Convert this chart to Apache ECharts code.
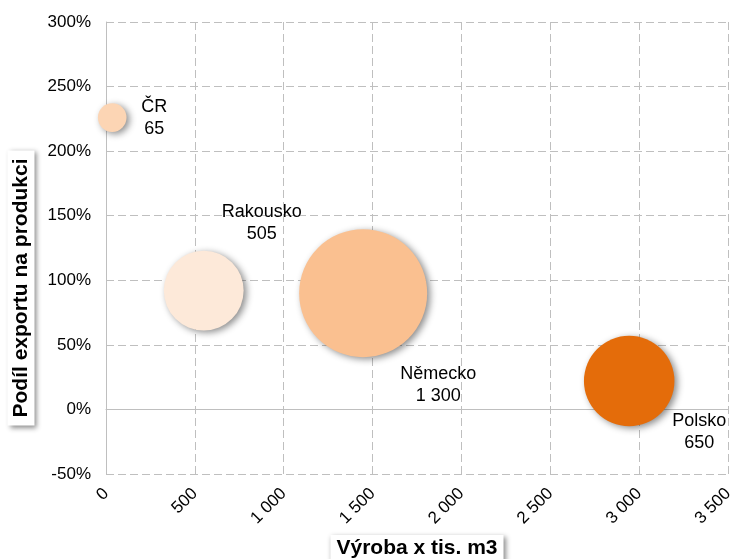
<!DOCTYPE html>
<html>
<head>
<meta charset="utf-8">
<script src="https://cdn.jsdelivr.net/npm/echarts@6/dist/echarts.min.js"></script>
<style>
html,body{margin:0;padding:0;background:#fff;}
#chart{width:732px;height:559px;}
</style>
</head>
<body>
<div id="chart"></div>
<script>
// ---- data ----
var countries = ['ČR', 'Rakousko', 'Německo', 'Polsko'];
var production = [35, 550, 1447, 2944];      // Výroba x tis. m3
var exportShare = [226, 92, 90, 22];         // Podíl exportu na produkci (%)
var exportVolume = [65, 505, 1300, 650];     // bubble size
var xTicks = [0, 500, 1000, 1500, 2000, 2500, 3000, 3500];
var yTicks = [-50, 0, 50, 100, 150, 200, 250, 300];

// ---- styles ----
var bubbleColors = ['#FCD5B4', '#FDE9D9', '#FAC090', '#E46C0A'];
var labelOffsets = [[42, 0], [58, -68], [75, 92], [70, 51]];
var FONT = 'Liberation Sans, Arial, sans-serif';

function fmtThousands(v) {
  var s = String(Math.round(v));
  return s.replace(/\B(?=(\d{3})+(?!\d))/g, ' ');
}

var data = countries.map(function (c, i) {
  return {
    name: c,
    value: [production[i], exportShare[i], exportVolume[i]],
    itemStyle: { color: bubbleColors[i] },
    label: { offset: labelOffsets[i] }
  };
});

var chart = echarts.init(document.getElementById('chart'), null, { renderer: 'canvas' });
var gridLine = { show: true, lineStyle: { color: '#BFBFBF', type: [8, 4], width: 1 } };

chart.setOption({
  animation: false,
  backgroundColor: '#fff',
  grid: { left: 106, right: 4, top: 22, bottom: 85, containLabel: false, outerBoundsMode: 'none' },
  xAxis: [{
    type: 'value',
    min: xTicks[0], max: xTicks[xTicks.length - 1], interval: 500,
    axisLine: { show: false, onZero: false },
    axisTick: { show: false },
    splitLine: gridLine,
    axisLabel: {
      rotate: 45, margin: 17, fontSize: 17, color: '#000', fontFamily: FONT,
      formatter: function (v) { return fmtThousands(v); }
    },
    name: 'Výroba x tis. m3',
    nameLocation: 'middle',
    nameGap: 61,
    nameTextStyle: {
      fontSize: 21, fontWeight: 'bold', color: '#000', fontFamily: FONT,
      backgroundColor: '#fff', padding: [3, 6, 3, 6],
      shadowColor: 'rgba(0,0,0,0.45)', shadowBlur: 5, shadowOffsetX: 2, shadowOffsetY: 2
    }
  }, {
    type: 'value',
    min: xTicks[0], max: xTicks[xTicks.length - 1], interval: 500,
    axisLine: { show: true, onZero: true, lineStyle: { color: '#BFBFBF', width: 1 } },
    axisTick: { show: false },
    axisLabel: { show: false },
    splitLine: { show: false }
  }],
  yAxis: {
    type: 'value',
    min: yTicks[0], max: yTicks[yTicks.length - 1], interval: 50,
    axisLine: { show: true, lineStyle: { color: '#BFBFBF', width: 1 } },
    axisTick: { show: false },
    splitLine: gridLine,
    axisLabel: {
      margin: 15, fontSize: 17, color: '#000', fontFamily: FONT,
      formatter: function (v) { return v + '%'; }
    }
  },
  graphic: [{
    type: 'text',
    x: 21, y: 288,
    rotation: Math.PI / 2,
    z: 10,
    style: {
      text: 'Podíl exportu na produkci',
      font: 'bold 21px ' + FONT,
      fill: '#000',
      align: 'center',
      verticalAlign: 'middle',
      backgroundColor: '#fff',
      padding: [3, 8, 3, 8],
      shadowColor: 'rgba(0,0,0,0.45)', shadowBlur: 5, shadowOffsetX: 2, shadowOffsetY: 2
    }
  }],
  series: [{
    type: 'scatter',
    xAxisIndex: 0,
    data: data,
    symbolSize: function (val) { return 3.55 * Math.sqrt(val[2]); },
    itemStyle: {
      opacity: 1,
      shadowColor: 'rgba(0,0,0,0.45)', shadowBlur: 7, shadowOffsetX: 3, shadowOffsetY: 2
    },
    label: {
      show: true,
      position: 'inside',
      fontSize: 18,
      lineHeight: 22,
      color: '#000',
      fontFamily: FONT,
      align: 'center',
      formatter: function (p) { return p.name + '\n' + fmtThousands(p.value[2]); }
    },
    emphasis: { disabled: true }
  }]
});
</script>
</body>
</html>
